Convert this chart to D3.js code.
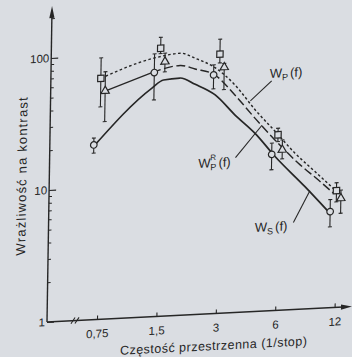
<!DOCTYPE html>
<html>
<head>
<meta charset="utf-8">
<script src="https://cdn.jsdelivr.net/npm/d3@7"></script>
<style>
  body { margin: 0; background: #dadde2; }
  svg { display: block; }
  text { font-family: "Liberation Sans", Arial, sans-serif; fill: #262626; }
</style>
</head>
<body>
<script>
// Contrast sensitivity vs spatial frequency (log-log)

// x axis frequencies and their labels
let freqs = [0.75, 1.5, 3, 6, 12];
let freqLabels = ["0,75", "1,5", "3", "6", "12"];

// y axis ticks
let yMajor = [1, 10, 100];
let yMajorLabels = ["1", "10", "100"];
let yMinor = [2, 3, 4, 5, 6, 7, 8, 9, 20, 30, 40, 50, 60, 70, 80, 90, 200];

// measured points (circles, squares, triangles) with error bar ends
let circleVals = [21.1, 70.8, 64.5, 15.3, 5.35];
let circleLo = [18.3, 43.9, 50.5, 11.7, 4.1];
let circleHi = [23.8, 98, 76.8, 18.6, 6.6];

let squareVals = [67.1, 107.6, 92.1, 21.4, 7.67];
let squareLo = [40.8, 98, 79, 19, 6.3];
let squareHi = [95.8, 130.3, 119.6, 24, 8.8];

let triangleVals = [53.6, 84.9, 72.9, 16.4, 6.68];
let triangleLo = [31.4, 71, 49.4, 14, 5.15];
let triangleHi = [75, 98.5, 78, 19.5, 7.7];

// curves as [frequency, sensitivity]
let curveWs = [[0.709, 21.1], [1.36, 53.9], [1.56, 61.7], [1.89, 62.9], [2.26, 55.6], [2.86, 45.4],
    [3.62, 31.4], [4.59, 22.4], [5.82, 14.7], [8.3, 8.45], [10.9, 5.4]];
let curveWpR = [[0.795, 53.6], [1.36, 70.8], [1.89, 78.3], [2.25, 72.6], [2.84, 64.3], [3.6, 44.5],
    [4.58, 29.1], [6.03, 18.4], [7.65, 12.8], [9.7, 9.37], [11.6, 7.34]];
let curveWp = [[0.75, 67.1], [1.38, 90.9], [1.89, 96.9], [2.25, 87.6], [2.84, 73.1], [3.6, 53],
    [4.58, 33.7], [5.81, 22.7], [7.34, 15.3], [9.3, 10.9], [11.8, 7.77]];

// SVG params
let svgWidth = 352;
let svgHeight = 357;
let ink = "#262626";
let paper = "#dadde2";

let svg = d3.select("body")
    .append("svg")
    .attr("width", svgWidth)
    .attr("height", svgHeight);

svg.append("rect")
    .attr("width", svgWidth)
    .attr("height", svgHeight)
    .attr("fill", paper);

// the scanned figure is slightly skewed, so the whole chart sits in a sheared frame
let chartGroup = svg.append("g")
    .attr("transform", "matrix(1, -0.0507, -0.016, 1, 47, 322)");

// scales
let xScale = d3.scaleLog().base(2)
    .domain([0.75, 12])
    .range([50, 287.6]);

let yScale = d3.scaleLog()
    .domain([1, 100])
    .range([0, -264]);

// axis lines with arrows
chartGroup.append("line")
    .attr("x1", 0).attr("y1", 0)
    .attr("x2", 0).attr("y2", -306)
    .attr("stroke", ink).attr("stroke-width", 1.4);
chartGroup.append("path")
    .attr("d", "M0,-316 L-2.6,-304 L2.6,-304 Z")
    .attr("fill", ink);

chartGroup.append("line")
    .attr("x1", 0).attr("y1", 0)
    .attr("x2", 296).attr("y2", 0)
    .attr("stroke", ink).attr("stroke-width", 1.4);
chartGroup.append("path")
    .attr("d", "M305,0 L294,-2.6 L294,2.6 Z")
    .attr("fill", ink);

// axis break marks
[26, 30].forEach(function(u) {
    chartGroup.append("line")
        .attr("x1", u - 2).attr("y1", 3)
        .attr("x2", u + 2).attr("y2", -3)
        .attr("stroke", ink).attr("stroke-width", 1.1);
});

// x axis ticks
let xAxis = d3.axisBottom(xScale)
    .tickValues(freqs)
    .tickFormat((d, i) => freqLabels[i])
    .tickSizeInner(-4)
    .tickSizeOuter(0)
    .tickPadding(10);

let xAxisG = chartGroup.append("g").call(xAxis);
xAxisG.select(".domain").remove();
xAxisG.selectAll("line").attr("stroke", ink).attr("stroke-width", 1.1);
xAxisG.selectAll("text")
    .attr("font-size", 11.5)
    .attr("font-family", "Liberation Sans, Arial, sans-serif")
    .attr("fill", ink);

// y axis ticks
let yAxis = d3.axisLeft(yScale)
    .tickValues(yMajor)
    .tickFormat((d, i) => yMajorLabels[i])
    .tickSizeInner(-7)
    .tickSizeOuter(0)
    .tickPadding(2);

let yAxisG = chartGroup.append("g").call(yAxis);
yAxisG.select(".domain").remove();
yAxisG.selectAll("line").attr("stroke", ink).attr("stroke-width", 1.1);
yAxisG.selectAll("text")
    .attr("font-size", 11.5)
    .attr("font-family", "Liberation Sans, Arial, sans-serif")
    .attr("fill", ink);

let yMinorAxis = d3.axisLeft(yScale)
    .tickValues(yMinor)
    .tickFormat("")
    .tickSizeInner(-3)
    .tickSizeOuter(0);

let yMinorG = chartGroup.append("g").call(yMinorAxis);
yMinorG.select(".domain").remove();
yMinorG.selectAll("line").attr("stroke", ink).attr("stroke-width", 1);

// curves
let line = d3.line()
    .x(d => xScale(d[0]))
    .y(d => yScale(d[1]))
    .curve(d3.curveMonotoneX);

chartGroup.append("path")
    .attr("d", line(curveWs))
    .attr("fill", "none")
    .attr("stroke", ink)
    .attr("stroke-width", 1.7);

// W_P^R: straight connector to the first data point, then long dashes
chartGroup.append("path")
    .attr("d", line(curveWpR.slice(0, 2)))
    .attr("fill", "none")
    .attr("stroke", ink)
    .attr("stroke-width", 1.4);
chartGroup.append("path")
    .attr("d", line(curveWpR.slice(1)))
    .attr("fill", "none")
    .attr("stroke", ink)
    .attr("stroke-width", 1.4)
    .attr("stroke-dasharray", "9,3.5");

chartGroup.append("path")
    .attr("d", line(curveWp))
    .attr("fill", "none")
    .attr("stroke", ink)
    .attr("stroke-width", 1.4)
    .attr("stroke-dasharray", "2.6,2.4");

// error bars and markers
function drawSeries(vals, lo, hi, dx, shape) {
    let g = chartGroup.append("g");
    let pts = freqs.map((f, i) => ({f: f, v: vals[i], lo: lo[i], hi: hi[i]}));

    let bars = g.selectAll(".bar")
        .data(pts)
        .enter()
        .append("g")
        .attr("transform", d => `translate(${xScale(d.f) + dx}, 0)`);

    bars.append("line")
        .attr("y1", d => yScale(d.lo))
        .attr("y2", d => yScale(d.hi))
        .attr("stroke", ink)
        .attr("stroke-width", 1.1);
    bars.append("line")
        .attr("x1", -2).attr("x2", 2)
        .attr("y1", d => yScale(d.hi)).attr("y2", d => yScale(d.hi))
        .attr("stroke", ink).attr("stroke-width", 1.1);
    bars.append("line")
        .attr("x1", -2).attr("x2", 2)
        .attr("y1", d => yScale(d.lo)).attr("y2", d => yScale(d.lo))
        .attr("stroke", ink).attr("stroke-width", 1.1);

    let marks = g.selectAll(".mark")
        .data(pts)
        .enter()
        .append("path")
        .attr("transform", d => `translate(${xScale(d.f) + dx}, ${yScale(d.v)})`)
        .attr("fill", paper)
        .attr("stroke", ink)
        .attr("stroke-width", 1.2);

    if (shape === "circle") marks.attr("d", d3.symbol(d3.symbolCircle, 34)());
    if (shape === "square") marks.attr("d", d3.symbol(d3.symbolSquare, 40)());
    if (shape === "triangle") marks.attr("d", d3.symbol(d3.symbolTriangle, 30)());
}

drawSeries(circleVals, circleLo, circleHi, -6, "circle");
drawSeries(squareVals, squareLo, squareHi, 0, "square");
drawSeries(triangleVals, triangleLo, triangleHi, 4.5, "triangle");

// curve labels with leader lines
function curveLabel(u, v, sub, sup) {
    let t = chartGroup.append("text")
        .attr("x", u)
        .attr("y", v)
        .attr("font-size", 13);
    t.append("tspan").text("W");
    if (sup) {
        t.append("tspan").attr("font-size", 8).attr("dy", -7).attr("dx", -0.5).text(sup);
        t.append("tspan").attr("font-size", 9).attr("dy", 10).attr("dx", -5.5).text(sub);
    } else {
        t.append("tspan").attr("font-size", 9).attr("dy", 3).text(sub);
    }
    t.append("tspan").attr("dy", -3).attr("dx", 2).text("(f)");
}

curveLabel(219, -233, "P");
curveLabel(149, -146.5, "P", "R");
curveLabel(206.5, -79.5, "S");

let leaders = [
    [221, -230, 200, -211],
    [186, -155, 212, -186],
    [245, -87, 261, -118]
];
leaders.forEach(function(l) {
    chartGroup.append("line")
        .attr("x1", l[0]).attr("y1", l[1])
        .attr("x2", l[2]).attr("y2", l[3])
        .attr("stroke", ink).attr("stroke-width", 1.1);
});

// axis titles
chartGroup.append("text")
    .attr("x", 167)
    .attr("y", 36.5)
    .attr("text-anchor", "middle")
    .attr("font-size", 12.5)
    .attr("textLength", 187)
    .attr("lengthAdjust", "spacing")
    .text("Częstość przestrzenna (1/stop)");

chartGroup.append("text")
    .attr("transform", "translate(-23, -147) rotate(-90)")
    .attr("text-anchor", "middle")
    .attr("font-size", 13)
    .attr("textLength", 158)
    .attr("lengthAdjust", "spacing")
    .text("Wrażliwość na kontrast");
</script>
</body>
</html>
